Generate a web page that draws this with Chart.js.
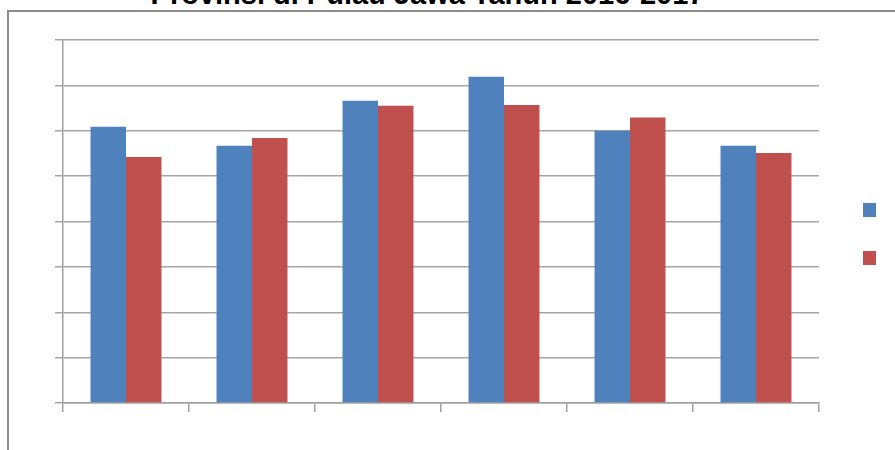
<!DOCTYPE html>
<html>
<head>
<meta charset="utf-8">
<script src="https://cdn.jsdelivr.net/npm/chart.js@4"></script>
<style>
    html, body { margin: 0; padding: 0; background: #fff; overflow: hidden; }
    body { width: 895px; height: 450px; position: relative; font-family: "Liberation Sans", Arial, sans-serif; }
    .frame { position: absolute; left: 7px; top: 10px; width: 900px; height: 460px; border-left: 2px solid #8c8c8c; border-top: 2px solid #8c8c8c; }
    .title { position: absolute; left: 0; width: 855px; top: -20px; text-align: center; font-weight: bold; font-size: 29px; line-height: 29px; color: #000; white-space: nowrap; }
    .chart-box { position: absolute; left: 0; top: 0; width: 895px; height: 450px; }
</style>
</head>
<body>
<div class="frame"></div>
<div class="title">Provinsi di Pulau Jawa Tahun 2016-2017</div>
<div class="chart-box"><canvas id="barChart"></canvas></div>
<script>
const provinces = ['DKI Jakarta', 'Jawa Barat', 'Jawa Tengah', 'DI Yogyakarta', 'Jawa Timur', 'Banten'];
const values2016 = [6.09, 5.67, 6.66, 7.19, 6.0, 5.67];
const values2017 = [5.42, 5.84, 6.55, 6.57, 6.29, 5.51];
const yTicks = [0, 1, 2, 3, 4, 5, 6, 7, 8];

document.addEventListener('DOMContentLoaded', () => {
    initBarChart();
});

// legend squares only, the original shows no legend text
const squareLegend = {
    id: 'squareLegend',
    afterDraw(chart) {
        const ctx = chart.ctx;
        const rows = [203, 251];
        chart.data.datasets.forEach((ds, i) => {
            ctx.save();
            ctx.fillStyle = ds.backgroundColor;
            ctx.fillRect(863, rows[i], 13, 14);
            ctx.restore();
        });
    }
};

function initBarChart() {
    const ctx = document.getElementById('barChart')?.getContext('2d');
    if (!ctx) return;

    new Chart(ctx, {
        type: 'bar',
        data: {
            labels: provinces,
            datasets: [
                {
                    label: '2016',
                    data: values2016,
                    backgroundColor: '#4f81bd',
                    borderWidth: 0
                },
                {
                    label: '2017',
                    data: values2017,
                    backgroundColor: '#c0504d',
                    borderWidth: 0
                }
            ]
        },
        options: {
            responsive: true,
            maintainAspectRatio: false,
            animation: false,
            categoryPercentage: 0.563,
            barPercentage: 1,
            layout: {
                padding: { left: 55, top: 40, right: 76, bottom: 38 }
            },
            plugins: {
                legend: { display: false },
                tooltip: { enabled: false }
            },
            scales: {
                x: {
                    afterFit: s => { s.height = 9; },
                    grid: {
                        offset: true,
                        drawOnChartArea: false,
                        drawTicks: true,
                        tickLength: 9,
                        color: '#a0a0a0',
                        lineWidth: 1.5
                    },
                    border: { display: true, color: '#a0a0a0', width: 1.5 },
                    ticks: { display: false }
                },
                y: {
                    min: 0,
                    max: yTicks[yTicks.length - 1],
                    afterFit: s => { s.width = 8; },
                    afterBuildTicks: s => { s.ticks = yTicks.map(v => ({ value: v })); },
                    grid: {
                        drawTicks: true,
                        tickLength: 8,
                        color: '#a5a5a5',
                        lineWidth: 1.5
                    },
                    border: { display: true, color: '#a0a0a0', width: 1.5 },
                    ticks: { display: false }
                }
            }
        },
        plugins: [squareLegend]
    });
}
</script>
</body>
</html>
